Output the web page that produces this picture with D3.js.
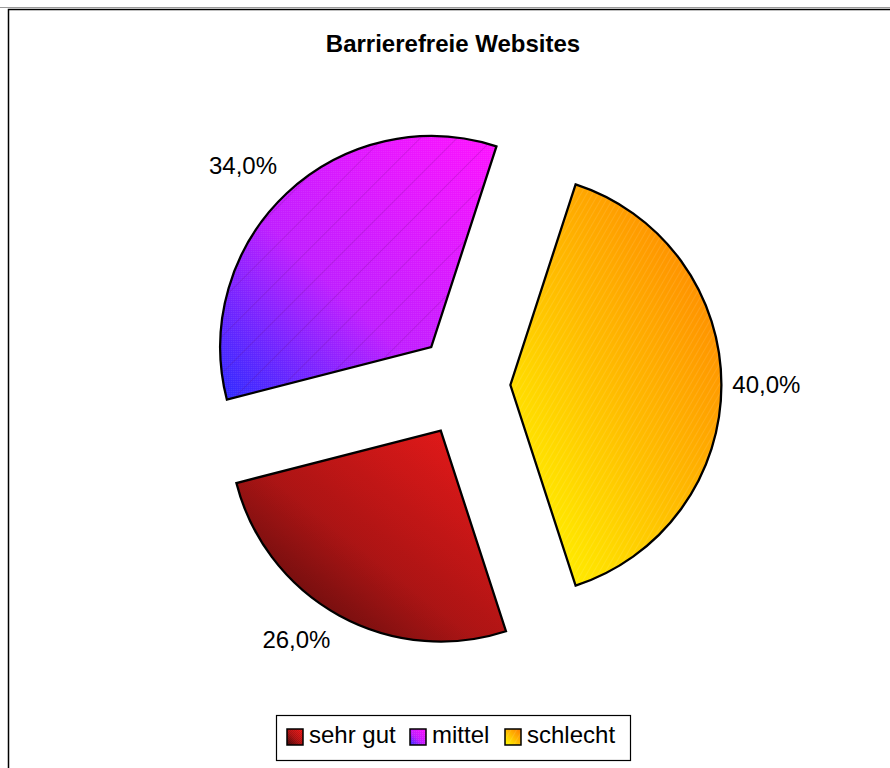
<!DOCTYPE html>
<html>
<head>
<meta charset="utf-8">
<script src="https://cdn.jsdelivr.net/npm/d3@7"></script>
<style>
  html, body { margin: 0; padding: 0; background: #fff; }
  svg { display: block; font-family: "Liberation Sans", Arial, sans-serif; }
</style>
</head>
<body>
<svg id="chart" width="890" height="768"></svg>
<script>
// Data
const categories = ["sehr gut", "mittel", "schlecht"];
const values = [26.0, 34.0, 40.0];
const title = "Barrierefreie Websites";

// Gradient colours per category: [start, mid, end] with the mid stop offset
const gradients = [
  ["#420909", "#b81616", "#ff1c1c"],
  ["#2a2aff", "#c01cff", "#ff10ff"],
  ["#ffff00", "#ffbb00", "#ff7c00"]
];
const gradientMid = [0.45, 0.42, 0.5];

const W = 890, H = 768;
const svg = d3.select("#chart");
const defs = svg.append("defs");

// Frame
svg.append("line").attr("x1", 0).attr("x2", W).attr("y1", 7.5).attr("y2", 7.5)
  .attr("stroke", "#9a9a9a").attr("stroke-width", 1);
svg.append("rect").attr("x", 8.5).attr("y", 9.5).attr("width", 1000).attr("height", 1000)
  .attr("fill", "#fff").attr("stroke", "#000").attr("stroke-width", 1.5);

// Title
svg.append("text")
  .attr("x", 453).attr("y", 52)
  .attr("text-anchor", "middle")
  .attr("font-size", 24).attr("font-weight", "bold")
  .text(title);

// Gradients
categories.forEach((c, i) => {
  const g = defs.append("linearGradient").attr("id", "grad" + i)
    .attr("x1", 0).attr("y1", 1).attr("x2", 1).attr("y2", 0);
  g.append("stop").attr("offset", 0).attr("stop-color", gradients[i][0]);
  g.append("stop").attr("offset", gradientMid[i]).attr("stop-color", gradients[i][1]);
  g.append("stop").attr("offset", 1).attr("stop-color", gradients[i][2]);
});

// Texture overlays
const checker = defs.append("pattern").attr("id", "tex0")
  .attr("width", 2).attr("height", 2).attr("patternUnits", "userSpaceOnUse");
checker.append("rect").attr("width", 1).attr("height", 1).attr("fill", "#000").attr("opacity", 0.14);
checker.append("rect").attr("x", 1).attr("y", 1).attr("width", 1).attr("height", 1).attr("fill", "#000").attr("opacity", 0.14);

const hatchM = defs.append("pattern").attr("id", "tex1")
  .attr("width", 26).attr("height", 26).attr("patternUnits", "userSpaceOnUse")
  .attr("patternTransform", "rotate(45)");
hatchM.append("line").attr("x1", 0).attr("y1", 0).attr("x2", 0).attr("y2", 26)
  .attr("stroke", "#5a006a").attr("stroke-width", 1.5).attr("opacity", 0.25);
const checkM = defs.append("pattern").attr("id", "tex1b")
  .attr("width", 2).attr("height", 2).attr("patternUnits", "userSpaceOnUse");
checkM.append("rect").attr("width", 1).attr("height", 1).attr("fill", "#fff").attr("opacity", 0.12);

const hatchS = defs.append("pattern").attr("id", "tex2")
  .attr("width", 5).attr("height", 5).attr("patternUnits", "userSpaceOnUse")
  .attr("patternTransform", "rotate(30)");
hatchS.append("line").attr("x1", 0).attr("y1", 0).attr("x2", 0).attr("y2", 5)
  .attr("stroke", "#fff").attr("stroke-width", 1).attr("opacity", 0.2);

const textures = [["tex0"], ["tex1", "tex1b"], ["tex2"]];

// Pie geometry
const cx = 463.4, cy = 385, R = 211;
const explodeX = 47, explodeY = 52;
const startA = 162 * Math.PI / 180;

const pie = d3.pie().sort(null).startAngle(startA).endAngle(startA + 2 * Math.PI);
const arcs = pie(values);
const arc = d3.arc().innerRadius(0).outerRadius(R);

const gPie = svg.append("g").attr("transform", `translate(${cx},${cy})`);

arcs.forEach((a, i) => {
  const mid = (a.startAngle + a.endAngle) / 2;
  const ox = Math.sin(mid) * explodeX, oy = -Math.cos(mid) * explodeY;
  const g = gPie.append("g").attr("transform", `translate(${ox},${oy})`);
  g.append("path").attr("d", arc(a)).attr("fill", `url(#grad${i})`);
  textures[i].forEach(t => g.append("path").attr("d", arc(a)).attr("fill", `url(#${t})`));
  g.append("path").attr("d", arc(a)).attr("fill", "none")
    .attr("stroke", "#000").attr("stroke-width", 2.3).attr("stroke-linejoin", "miter");
});

// Value labels outside each slice
const labelGap = 45;
const labelNudge = [[-21, -15], [-13, 5], [0, 0]];
const fmt = v => v.toFixed(1).replace(".", ",") + "%";
arcs.forEach((a, i) => {
  const mid = (a.startAngle + a.endAngle) / 2;
  const ox = Math.sin(mid) * explodeX, oy = -Math.cos(mid) * explodeY;
  const lx = ox + Math.sin(mid) * (R + labelGap) + labelNudge[i][0];
  const ly = oy - Math.cos(mid) * (R + labelGap) + labelNudge[i][1];
  gPie.append("text")
    .attr("x", lx).attr("y", ly).attr("dy", "0.35em")
    .attr("text-anchor", "middle")
    .attr("font-size", 24)
    .text(fmt(values[i]));
});

// Legend
const legend = svg.append("g");
legend.append("rect").attr("x", 276.5).attr("y", 715.5).attr("width", 354).attr("height", 45)
  .attr("fill", "#fff").attr("stroke", "#000").attr("stroke-width", 1.2);
const legendX = [287, 410, 505];
categories.forEach((c, i) => {
  const g = legend.append("g").attr("transform", `translate(${legendX[i]},729)`);
  g.append("rect").attr("width", 16).attr("height", 16).attr("fill", `url(#grad${i})`);
  textures[i].forEach(t => g.append("rect").attr("width", 16).attr("height", 16).attr("fill", `url(#${t})`));
  g.append("rect").attr("width", 16).attr("height", 16).attr("fill", "none")
    .attr("stroke", "#000").attr("stroke-width", 1.5);
  g.append("text").attr("x", 22).attr("y", 14).attr("font-size", 24).text(c);
});
</script>
</body>
</html>
